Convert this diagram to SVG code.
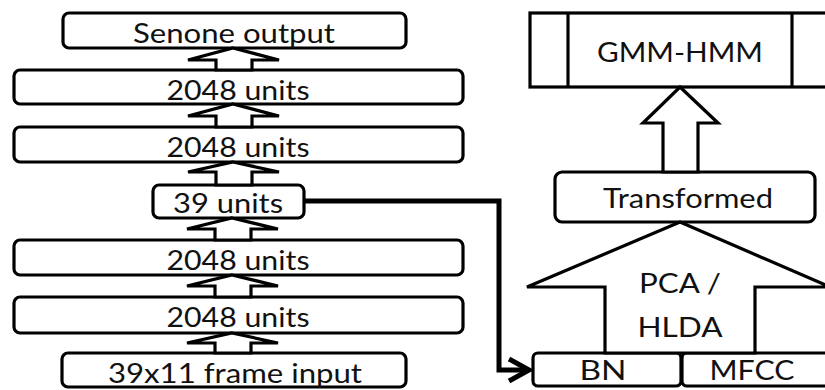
<svg xmlns="http://www.w3.org/2000/svg" width="825" height="390" viewBox="0 0 825 390">
<defs>
<style>
.box{fill:#fff;stroke:#000;stroke-width:3.2}
.arr{fill:#fff;stroke:#000;stroke-width:3.2;stroke-linejoin:miter}
.t{font-family:Lato,"Open Sans","Liberation Sans",sans-serif;font-size:27px;fill:#111;text-anchor:middle}
.conn{fill:none;stroke:#000;stroke-width:5;stroke-linejoin:miter}
</style>
<marker id="chev" markerUnits="userSpaceOnUse" markerWidth="30" markerHeight="30" refX="24" refY="15" orient="auto">
<path d="M4,4 L24,15 L4,26" fill="none" stroke="#000" stroke-width="5"/>
</marker>
</defs>
<rect width="825" height="390" fill="#fff"/>

<g id="senone"><rect class="box" x="63" y="13" width="343" height="35" rx="6"/><text class="t" x="234" y="43" font-size="28" textLength="202" lengthAdjust="spacingAndGlyphs">Senone output</text></g>
<g id="h4"><rect class="box" x="14" y="70" width="449" height="34" rx="6"/><text class="t" x="238" y="100" textLength="143" lengthAdjust="spacingAndGlyphs">2048 units</text></g>
<g id="h3"><rect class="box" x="14" y="127" width="449" height="35" rx="6"/><text class="t" x="238" y="157" textLength="143" lengthAdjust="spacingAndGlyphs">2048 units</text></g>
<g id="bn39"><rect class="box" x="153" y="185" width="151" height="33" rx="6"/><text class="t" x="228" y="213" textLength="110" lengthAdjust="spacingAndGlyphs">39 units</text></g>
<g id="h2"><rect class="box" x="14" y="240" width="449" height="35" rx="6"/><text class="t" x="238" y="270" textLength="143" lengthAdjust="spacingAndGlyphs">2048 units</text></g>
<g id="h1"><rect class="box" x="14" y="297" width="449" height="36" rx="6"/><text class="t" x="238" y="327" textLength="143" lengthAdjust="spacingAndGlyphs">2048 units</text></g>
<g id="input"><rect class="box" x="62" y="353" width="344" height="34" rx="6"/><text class="t" x="235" y="383" textLength="254" lengthAdjust="spacingAndGlyphs">39x11 frame input</text></g>

<g id="gmmhmm"><rect class="box" x="530" y="13" width="300" height="74"/><line x1="568" y1="13" x2="568" y2="87" stroke="#000" stroke-width="3.2"/><line x1="792" y1="13" x2="792" y2="87" stroke="#000" stroke-width="3.2"/><text class="t" x="680" y="62" textLength="166" lengthAdjust="spacingAndGlyphs">GMM-HMM</text></g>
<g id="transformed"><rect class="box" x="555" y="172" width="260" height="50" rx="7"/><text class="t" x="688" y="208" font-size="29" textLength="170" lengthAdjust="spacingAndGlyphs">Transformed</text></g>
<g id="bnfeat"><rect class="box" x="533" y="353" width="148" height="33" rx="5"/><text class="t" x="603" y="380" font-size="28" textLength="47" lengthAdjust="spacingAndGlyphs">BN</text></g>
<g id="mfcc"><rect class="box" x="682" y="353" width="150" height="33" rx="5"/><text class="t" x="752" y="380" font-size="28" textLength="85" lengthAdjust="spacingAndGlyphs">MFCC</text></g>

<g id="connectors">
<polygon class="arr" points="233,48 279,60 252,60 252,70 216,70 216,60 188,60"/>
<polygon class="arr" points="233,104 279,116 252,116 252,127 216,127 216,116 188,116"/>
<polygon class="arr" points="233,162 279,172 252,172 252,185 216,185 216,172 188,172"/>
<polygon class="arr" points="232,218 278,229 251,229 251,240 215,240 215,229 187,229"/>
<polygon class="arr" points="232,275 278,286 251,286 251,297 215,297 215,286 187,286"/>
<polygon class="arr" points="232,333 278,343 251,343 251,353 215,353 215,343 187,343"/>
<polygon class="arr" points="680,87 718,123 698,123 698,172 663,172 663,123 643,123"/>
<polygon class="arr" points="680,222 830,287 755,287 755,353 605,353 605,287 527,287"/>
<polyline class="conn" points="305,201 499,201 499,370 529,370" marker-end="url(#chev)"/>
</g>
<g id="pca"><text class="t" x="680" y="293" font-size="29" textLength="82" lengthAdjust="spacingAndGlyphs">PCA /</text><text class="t" x="680" y="337" font-size="29" textLength="85" lengthAdjust="spacingAndGlyphs">HLDA</text></g>
</svg>
